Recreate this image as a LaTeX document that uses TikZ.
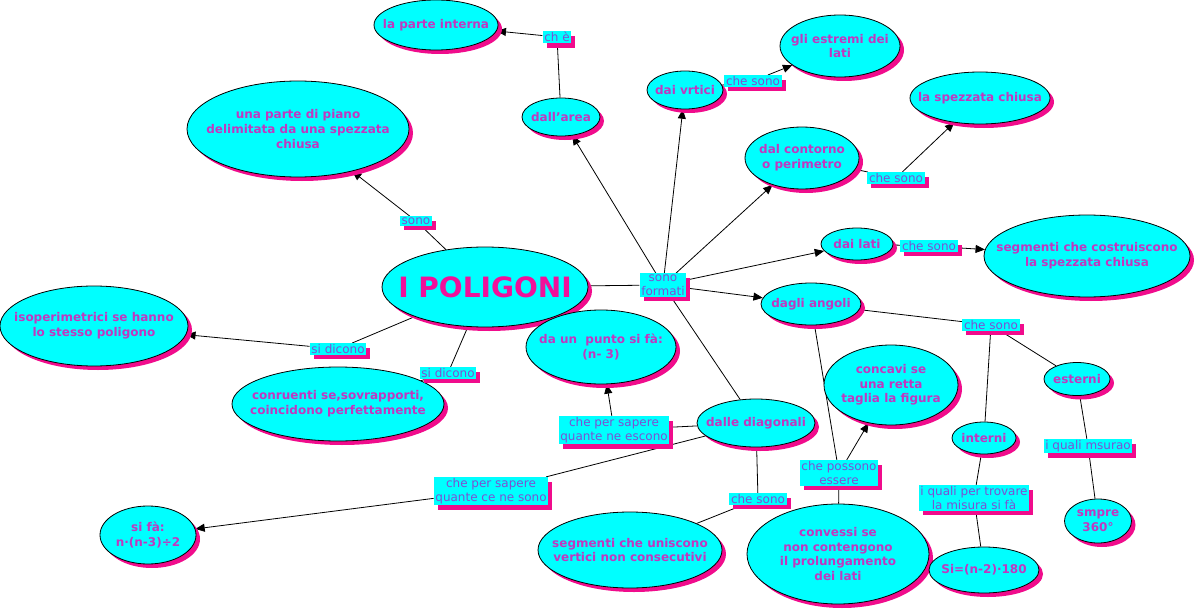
\documentclass[tikz,border=0pt]{standalone}
\usepackage{fontspec}
\setmainfont{DejaVu Sans}
\usetikzlibrary{arrows.meta,shapes.geometric,shadows,backgrounds}

\definecolor{ciano}{RGB}{0,255,255}
\definecolor{rosa}{RGB}{240,12,140}
\definecolor{viola}{RGB}{192,56,192}
\definecolor{lilla}{RGB}{125,80,210}
\definecolor{fucsia}{RGB}{240,16,154}

\tikzset{
  concetto/.style={ellipse, draw=black, line width=0.6pt, fill=ciano,
    inner xsep=-20pt, inner ysep=0pt, align=center, text=viola,
    font=\fontsize{9}{11}\selectfont\bfseries,
    drop shadow={fill=rosa, opacity=1, shadow xshift=3pt, shadow yshift=-3pt}},
  esz/.style 2 args={minimum width=#1*0.75pt, minimum height=#2*0.75pt},
  testata/.style={text=fucsia, font=\fontsize{21}{24}\selectfont\bfseries},
  legame/.style={rectangle, fill=ciano, inner xsep=1.2pt, inner ysep=0.8pt,
    align=center, text=lilla, font=\fontsize{9}{10.5}\selectfont,
    drop shadow={fill=rosa, opacity=1, shadow xshift=3pt, shadow yshift=-3.5pt}},
  linea/.style={line width=0.6pt},
  freccia/.style={line width=0.6pt, -{Triangle[length=7pt,width=6pt]}}
}

\begin{document}
\begin{tikzpicture}[x=0.75pt,y=-0.75pt]
\useasboundingbox (0,0) rectangle (1196,610);
% concetti
\node[concetto, esz={124}{50}] (interna) at (436,25) {la parte interna};
\node[concetto, esz={78}{38}] (area) at (561,117) {dall'area};
\node[concetto, esz={76}{38}] (vertici) at (685,90) {dai vrtici};
\node[concetto, esz={120}{62}] (estremi) at (840,46) {gli estremi dei\\lati};
\node[concetto, esz={114}{62}] (contorno) at (802,158) {dal contorno\\o perimetro};
\node[concetto, esz={140}{52}] (spezzata) at (980,98) {la spezzata chiusa};
\node[concetto, esz={222}{96}] (piano) at (298,129) {una parte di piano\\delimitata da una spezzata\\chiusa};
\node[concetto, testata, esz={206}{80}] (poligoni) at (485,287) {I POLIGONI};
\node[concetto, esz={72}{32}] (lati) at (857,244) {dai lati};
\node[concetto, esz={206}{82}] (costruiscono) at (1087,256) {segmenti che costruiscono\\la spezzata chiusa};
\node[concetto, esz={100}{42}] (angoli) at (811,304) {dagli angoli};
\node[concetto, esz={188}{80}] (isoperimetrici) at (94,326) {isoperimetrici se hanno\\lo stesso poligono};
\node[concetto, esz={150}{74}] (punto) at (601,347) {da un\ \ punto si fà:\\(n- 3)};
\node[concetto, esz={212}{74}] (congruenti) at (338,404) {conruenti se,sovrapporti,\\coincidono perfettamente};
\node[concetto, esz={134}{80}] (concavi) at (891,385) {concavi se\\una retta\\taglia la figura};
\node[concetto, esz={66}{33}] (esterni) at (1077,379) {esterni};
\node[concetto, esz={118}{48}] (diagonali) at (756,423) {dalle diagonali};
\node[concetto, esz={64}{32}] (interni) at (984,438) {interni};
\node[concetto, esz={96}{58}] (formula) at (148,535) {si fà:\\n·(n-3)÷2};
\node[concetto, esz={184}{76}] (uniscono) at (630,550) {segmenti che uniscono\\vertici non consecutivi};
\node[concetto, esz={182}{100}] (convessi) at (838,554) {convessi se\\non contengono\\il prolungamento\\dei lati};
\node[concetto, esz={67}{44}] (sempre) at (1098,521) {smpre\\360°};
\node[concetto, esz={110}{46}] (somma) at (984,570) {Si=(n-2)·180};
% parole legame
\node[legame] (che) at (557,37) {ch è};
\node[legame] (sono) at (416,221) {sono};
\node[legame] (formati) at (663,285) {sono\\formati};
\node[legame] (chevertici) at (753,81) {che sono};
\node[legame] (checontorno) at (896,178) {che sono};
\node[legame] (chelati) at (929,246) {che sono};
\node[legame] (dicono) at (338,349) {si dicono};
\node[legame] (diconob) at (448,373) {si dicono};
\node[legame] (cheangoli) at (991,325) {che sono};
\node[legame] (escono) at (614,430) {che per sapere\\quante ne escono};
\node[legame] (cenesono) at (491,491) {che per sapere\\quante ce ne sono};
\node[legame] (chediagonali) at (758,499) {che sono};
\node[legame] (possono) at (839,473) {che possono\\essere};
\node[legame] (misurano) at (1088,446) {i quali msurao};
\node[legame] (trovare) at (974,498) {i quali per trovare\\la misura si fà};
% collegamenti
\begin{scope}[on background layer]
\draw[linea] (area) -- (che);
\draw[freccia] (che) -- (interna);
\draw[linea] (poligoni) -- (sono);
\draw[freccia] (sono) -- (piano);
\draw[linea] (poligoni) -- (formati);
\draw[freccia] (formati) -- (area);
\draw[freccia] (formati) -- (vertici);
\draw[freccia] (formati) -- (contorno);
\draw[freccia] (formati) -- (lati);
\draw[freccia] (formati) -- (angoli);
\draw[linea] (formati) -- (diagonali);
\draw[linea] (vertici) -- (chevertici);
\draw[freccia] (chevertici) -- (estremi);
\draw[linea] (contorno) -- (checontorno);
\draw[freccia] (checontorno) -- (spezzata);
\draw[linea] (lati) -- (chelati);
\draw[freccia] (chelati) -- (costruiscono);
\draw[linea] (poligoni) -- (dicono);
\draw[freccia] (dicono) -- (isoperimetrici);
\draw[linea] (poligoni) -- (diconob);
\draw[linea] (diconob) -- (congruenti);
\draw[linea] (angoli) -- (cheangoli);
\draw[linea] (cheangoli) -- (esterni);
\draw[linea] (cheangoli) -- (interni);
\draw[linea] (angoli) -- (possono);
\draw[freccia] (possono) -- (concavi);
\draw[linea] (possono) -- (convessi);
\draw[linea] (diagonali) -- (escono);
\draw[freccia] (escono) -- (punto);
\draw[linea] (diagonali) -- (cenesono);
\draw[freccia] (cenesono) -- (formula);
\draw[linea] (diagonali) -- (chediagonali);
\draw[linea] (chediagonali) -- (uniscono);
\draw[linea] (esterni) -- (misurano);
\draw[linea] (misurano) -- (sempre);
\draw[linea] (interni) -- (trovare);
\draw[linea] (trovare) -- (somma);
\end{scope}
\end{tikzpicture}
\end{document}
